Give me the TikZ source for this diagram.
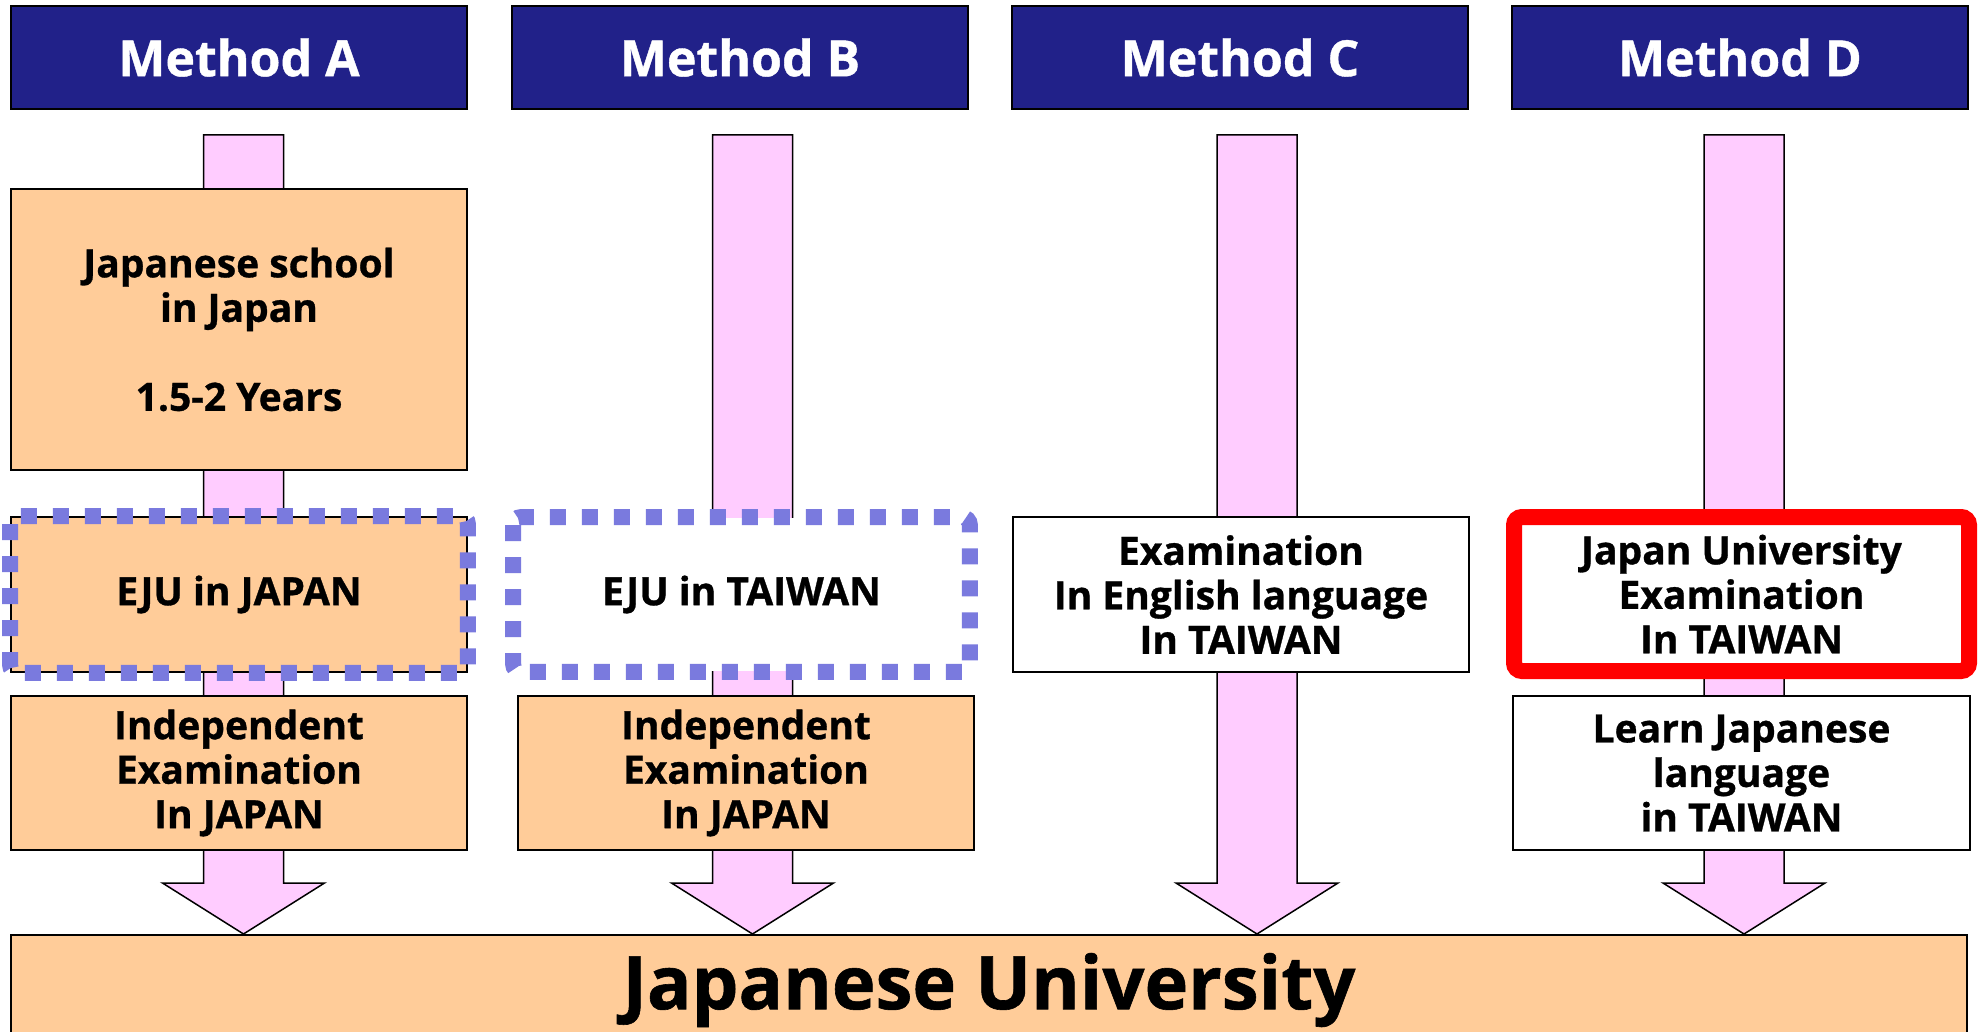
\documentclass[tikz,border=0pt]{standalone}
\usepackage{fontspec}
\setmainfont{Open Sans}[BoldFeatures={FakeBold=0.8}]
\usetikzlibrary{calc}
\pgfdeclarelayer{background}
\pgfsetlayers{background,main}
\definecolor{navy}{RGB}{33,33,137}
\definecolor{orangefill}{RGB}{255,204,153}
\definecolor{pinkfill}{RGB}{255,204,255}
\definecolor{dotblue}{RGB}{122,122,222}
\tikzset{
  header/.style={draw=black, line width=2pt, fill=navy, text=white, font=\fontsize{50}{60}\selectfont\bfseries, minimum width=456pt, minimum height=103pt, inner sep=0pt},
  stepbox/.style={draw=black, line width=1.8pt, minimum width=456pt, inner sep=0pt, align=center, font=\fontsize{39}{44.5}\selectfont\bfseries},
  orangebox/.style={stepbox, fill=orangefill},
  whitebox/.style={stepbox, fill=white},
  dotframe/.style={draw=dotblue, line width=16pt, dash pattern=on 16pt off 16pt, rounded corners=8pt},
  redbox/.style={stepbox, draw=red, line width=16pt, rounded corners=8pt, fill=white, minimum width=455pt},
  blockarrow/.style={draw=black, line width=1.5pt, fill=pinkfill, line join=miter},
}
\newcommand{\bigarrow}[2]{%
  \path[blockarrow] let \p1=(#1), \p2=(#2) in
    (\x1-40pt,\y1) -- (\x1+40pt,\y1) -- (\x1+40pt,\y2+51pt) -- (\x1+81pt,\y2+51pt)
    -- (\x1,\y2) -- (\x1-81pt,\y2+51pt) -- (\x1-40pt,\y2+51pt) -- cycle;}
\begin{document}
\begin{tikzpicture}[x=1pt,y=-1pt]
\useasboundingbox (0,0) rectangle (1981,1032);
% headers
\node[header] (mA) at (239,57.5) {Method A};
\node[header] (mB) at (740,57.5) {Method B};
\node[header] (mC) at (1240,57.5) {Method C};
\node[header] (mD) at (1740,57.5) {Method D};
% column A
\node[orangebox, minimum height=281pt] (school) at (239,329.5) {Japanese school\\in Japan\\[44.5pt]1.5-2 Years};
\node[orangebox, minimum height=155pt] (ejuA) at (239,594.5) {EJU in JAPAN};
\draw[dotframe] (ejuA.north west) rectangle (ejuA.south east);
\node[orangebox, minimum height=154pt] (indA) at (239,773) {Independent\\Examination\\In JAPAN};
% column B
\node[stepbox, draw=none, fill=white, minimum width=455pt, minimum height=153pt] (ejuB) at (741.5,594.5) {EJU in TAIWAN};
\draw[dotframe] (ejuB.north west) rectangle (ejuB.south east);
\node[orangebox, minimum height=154pt] (indB) at (746,773) {Independent\\Examination\\In JAPAN};
% column C
\node[whitebox, minimum height=155pt] (engC) at (1241,594.5) {Examination\\In English language\\In TAIWAN};
% column D
\node[redbox, minimum height=154pt] (jueD) at (1741.5,594) {Japan University\\Examination\\In TAIWAN};
\node[whitebox, minimum width=457pt, minimum height=154pt] (learnD) at (1741.5,773) {Learn Japanese\\language\\in TAIWAN};
% university
\node[orangebox, minimum width=1956pt, minimum height=140pt, anchor=north] (uni) at (989,934) {};
\node[font=\fontsize{74}{80}\selectfont\bfseries, inner sep=0pt] (unitext) at (989,990) {Japanese University};
% arrow coordinates
\coordinate (aT) at (243.5,135);
\coordinate (bT) at (752.5,135);
\coordinate (cT) at (1257,135);
\coordinate (dT) at (1744,135);
\begin{pgfonlayer}{background}
\fill[white] (0,0) rectangle (1981,1032);
\bigarrow{aT}{aT |- uni.north}
\bigarrow{bT}{bT |- uni.north}
\bigarrow{cT}{cT |- uni.north}
\bigarrow{dT}{dT |- uni.north}
\end{pgfonlayer}
\end{tikzpicture}
\end{document}
